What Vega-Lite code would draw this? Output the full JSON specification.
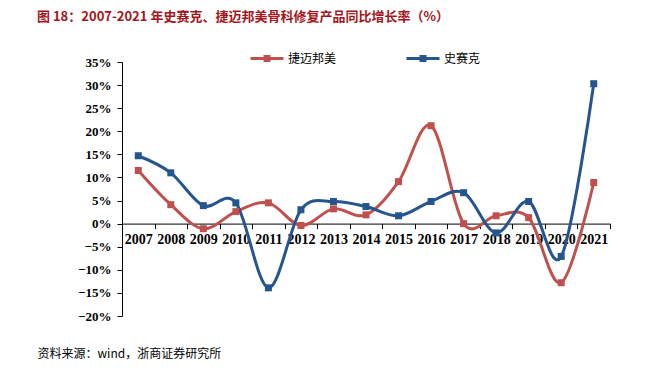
{
  "$schema": "https://vega.github.io/schema/vega-lite/v6.json",
  "width": 488,
  "height": 254,
  "autosize": {"type": "none"},
  "padding": {"left": 122, "top": 62, "right": 58, "bottom": 60},
  "background": "white",
  "config": {"view": {"stroke": null}},
  "title": {
    "text": "图 18：2007-2021 年史赛克、捷迈邦美骨科修复产品同比增长率（%）",
    "anchor": "start",
    "frame": "group",
    "dx": -85,
    "offset": 17,
    "font": "Noto Sans CJK SC",
    "fontSize": 13,
    "fontWeight": "bold",
    "color": "#A3161B"
  },
  "data": {
    "values": [
      {"year": "2007", "series": "捷迈邦美", "value": 0.115},
      {"year": "2008", "series": "捷迈邦美", "value": 0.041},
      {"year": "2009", "series": "捷迈邦美", "value": -0.011},
      {"year": "2010", "series": "捷迈邦美", "value": 0.026},
      {"year": "2011", "series": "捷迈邦美", "value": 0.045},
      {"year": "2012", "series": "捷迈邦美", "value": -0.004},
      {"year": "2013", "series": "捷迈邦美", "value": 0.032},
      {"year": "2014", "series": "捷迈邦美", "value": 0.019},
      {"year": "2015", "series": "捷迈邦美", "value": 0.091},
      {"year": "2016", "series": "捷迈邦美", "value": 0.212},
      {"year": "2017", "series": "捷迈邦美", "value": 0.0},
      {"year": "2018", "series": "捷迈邦美", "value": 0.017},
      {"year": "2019", "series": "捷迈邦美", "value": 0.013},
      {"year": "2020", "series": "捷迈邦美", "value": -0.128},
      {"year": "2021", "series": "捷迈邦美", "value": 0.089},
      {"year": "2007", "series": "史赛克", "value": 0.147},
      {"year": "2008", "series": "史赛克", "value": 0.11},
      {"year": "2009", "series": "史赛克", "value": 0.039},
      {"year": "2010", "series": "史赛克", "value": 0.045},
      {"year": "2011", "series": "史赛克", "value": -0.139},
      {"year": "2012", "series": "史赛克", "value": 0.03},
      {"year": "2013", "series": "史赛克", "value": 0.048},
      {"year": "2014", "series": "史赛克", "value": 0.037},
      {"year": "2015", "series": "史赛克", "value": 0.017},
      {"year": "2016", "series": "史赛克", "value": 0.048},
      {"year": "2017", "series": "史赛克", "value": 0.067},
      {"year": "2018", "series": "史赛克", "value": -0.02},
      {"year": "2019", "series": "史赛克", "value": 0.048},
      {"year": "2020", "series": "史赛克", "value": -0.071},
      {"year": "2021", "series": "史赛克", "value": 0.303}
    ]
  },
  "mark": {
    "type": "line",
    "interpolate": "cardinal",
    "strokeWidth": 3,
    "point": {"shape": "square", "size": 49, "filled": true}
  },
  "encoding": {
    "x": {
      "field": "year",
      "type": "ordinal",
      "scale": {"paddingInner": 0, "paddingOuter": 0},
      "axis": {
        "offset": -92.4,
        "labelAngle": 0,
        "labelFont": "Liberation Serif",
        "labelFontWeight": "bold",
        "labelFontSize": 14,
        "labelColor": "black",
        "labelPadding": 4,
        "tickBand": "extent",
        "tickSize": 5,
        "tickColor": "black",
        "domainColor": "black",
        "labelOverlap": false,
        "title": "资料来源：wind，浙商证券研究所",
        "titleX": -85,
        "titleY": 130,
        "titleAlign": "left",
        "titleAnchor": "start",
        "titleBaseline": "middle",
        "titleFont": "Noto Sans CJK SC",
        "titleFontWeight": "normal",
        "titleFontSize": 12,
        "titleColor": "black"
      }
    },
    "y": {
      "field": "value",
      "type": "quantitative",
      "scale": {"domain": [-0.2, 0.35], "nice": false, "zero": false},
      "axis": {
        "values": [-0.2, -0.15, -0.1, -0.05, 0, 0.05, 0.1, 0.15, 0.2, 0.25, 0.3, 0.35],
        "format": ".0%",
        "grid": false,
        "title": null,
        "labelFont": "Liberation Serif",
        "labelFontWeight": "bold",
        "labelFontSize": 13,
        "labelColor": "black",
        "labelPadding": 6,
        "tickSize": 5,
        "tickColor": "black",
        "domainColor": "black"
      }
    },
    "color": {
      "field": "series",
      "type": "nominal",
      "sort": ["捷迈邦美", "史赛克"],
      "scale": {"domain": ["捷迈邦美", "史赛克"], "range": ["#C0504D", "#24558F"]},
      "legend": {
        "orient": "none",
        "legendX": 127,
        "legendY": -21.5,
        "direction": "horizontal",
        "title": null,
        "symbolType": "M-1,0L1,0M-0.12,-0.12L0.12,-0.12L0.12,0.12L-0.12,0.12Z",
        "symbolSize": 1089,
        "symbolStrokeWidth": 3,
        "labelFont": "Noto Sans CJK SC",
        "labelFontSize": 12,
        "labelColor": "black",
        "labelOffset": 3,
        "columnPadding": 63,
        "encode": {
          "symbols": {
            "update": {
              "fill": {"scale": "color", "field": "value"},
              "stroke": {"scale": "color", "field": "value"},
              "strokeWidth": {"value": 3}
            }
          }
        }
      }
    }
  }
}
